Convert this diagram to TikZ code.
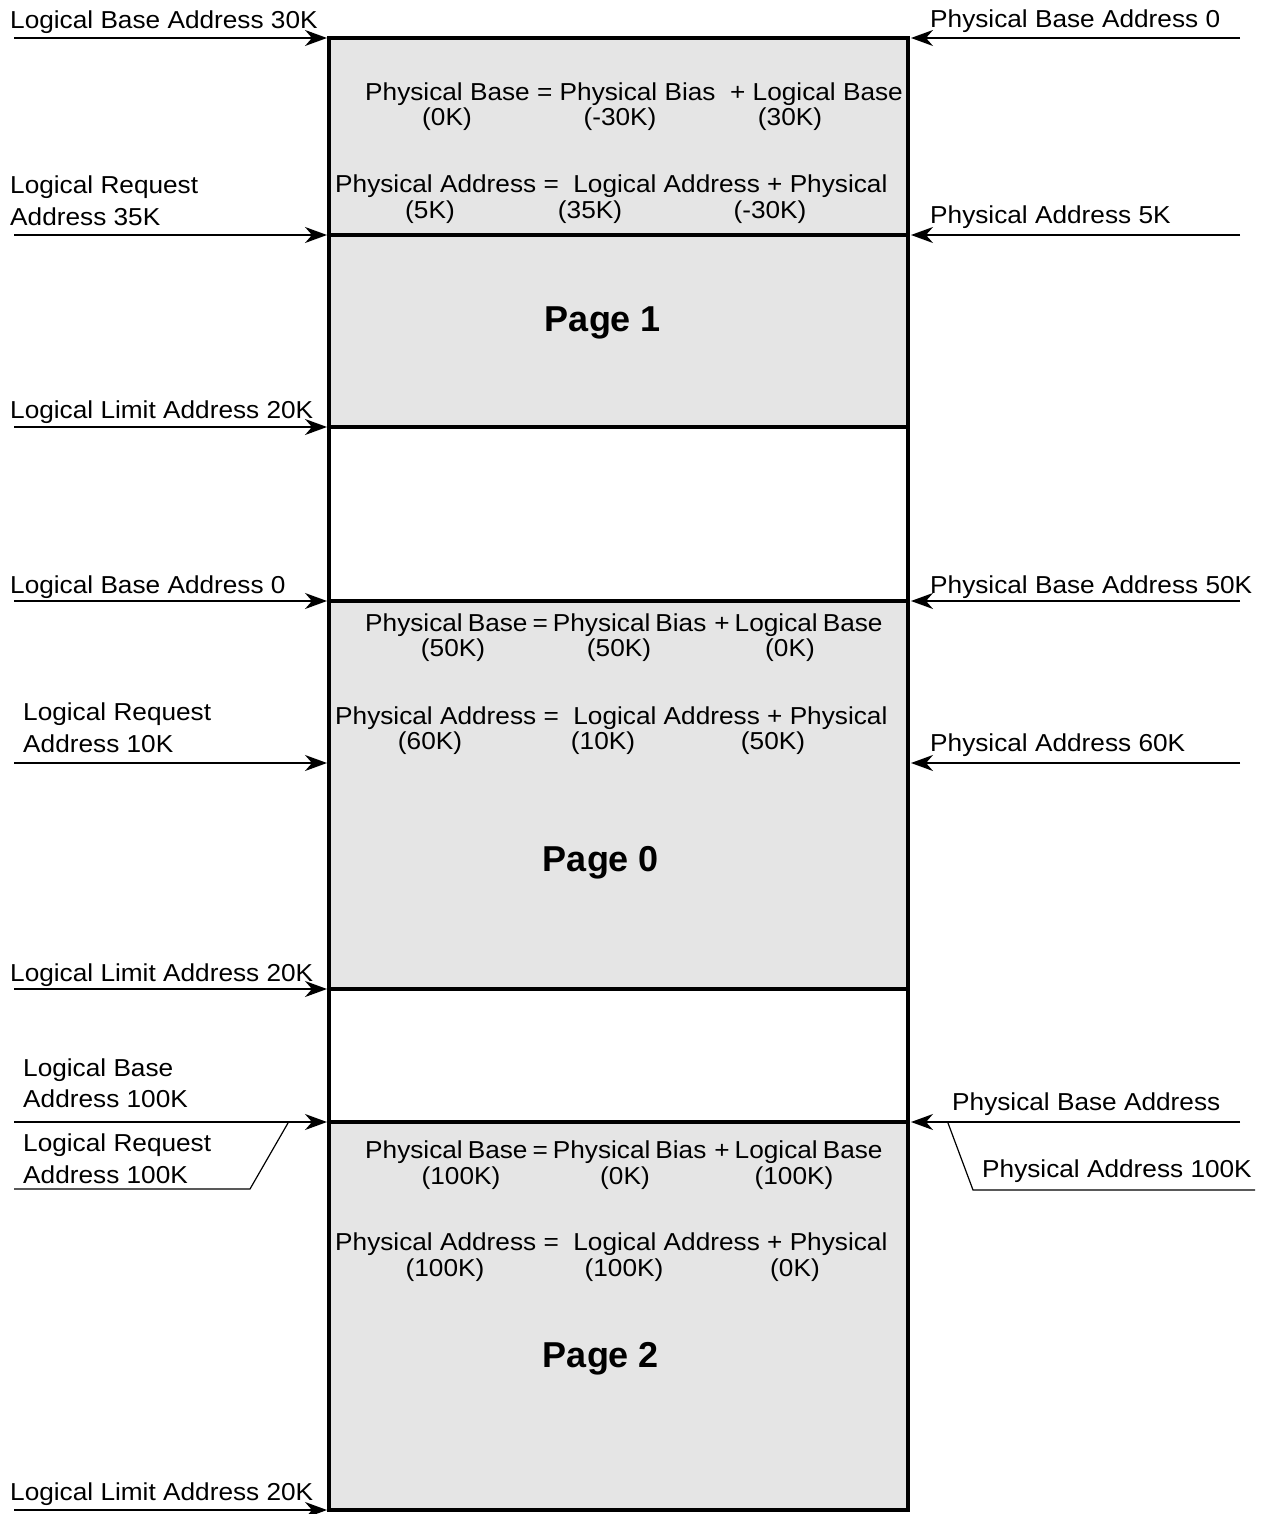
\documentclass[tikz,border=0pt]{standalone}
\usepackage{fontspec}
\setmainfont{Liberation Sans}
\newfontfamily\widefont[FakeStretch=1.07]{Liberation Sans}
\usetikzlibrary{arrows.meta}
\begin{document}
\begin{tikzpicture}[x=1pt,y=-1pt,
  lbl/.style={font=\widefont\fontsize{24.5}{28}\selectfont, inner sep=0pt, anchor=base west},
  val/.style={font=\widefont\fontsize{24.5}{28}\selectfont, inner sep=0pt, anchor=base},
  pg/.style={font=\fontsize{36}{40}\selectfont\bfseries, inner sep=0pt, anchor=base},
  arr/.style={line width=1.4pt, -{Stealth[length=22pt,width=16pt,inset=7pt]}},
  thin/.style={line width=1.2pt},
  box/.style={line width=3.5pt},
  shade/.style={fill=black!10}]
\useasboundingbox (0,0) rectangle (1266,1514);

% shaded regions
\fill[shade] (329,38) rectangle (908,427);
\fill[shade] (329,601) rectangle (908,989);
\fill[shade] (329,1122) rectangle (908,1510);

% box outline and dividers
\draw[box] (329,38) rectangle (908,1510);
\foreach \yy in {235,427,601,989,1122} \draw[box] (329,\yy) -- (908,\yy);

% edge coordinates
\foreach \yy/\nm in {38/a,235/b,427/c,601/d,763/e,989/f,1122/g,1510/h} {
  \coordinate (L\nm) at (14,\yy);
  \coordinate (LB\nm) at (327,\yy);
}
\foreach \yy/\nm in {38/a,235/b,601/d,763/e,1122/g} {
  \coordinate (R\nm) at (1240,\yy);
  \coordinate (RB\nm) at (911,\yy);
}

% left labels
\node[lbl] (l1) at (10,29) {Logical Base Address 30K};
\node[lbl] (l2a) at (10,194) {Logical Request};
\node[lbl] (l2b) at (10,226) {Address 35K};
\node[lbl] (l3) at (10,418) {Logical Limit Address 20K};
\node[lbl] (l4) at (10,593) {Logical Base Address 0};
\node[lbl] (l5a) at (23,720) {Logical Request};
\node[lbl] (l5b) at (23,752) {Address 10K};
\node[lbl] (l6) at (10,981) {Logical Limit Address 20K};
\node[lbl] (l7a) at (23,1076) {Logical Base};
\node[lbl] (l7b) at (23,1107) {Address 100K};
\node[lbl] (l8a) at (23,1151) {Logical Request};
\node[lbl] (l8b) at (23,1183) {Address 100K};
\node[lbl] (l9) at (10,1500) {Logical Limit Address 20K};

% right labels
\node[lbl] (r1) at (930,28) {Physical Base Address 0};
\node[lbl] (r2) at (930,224) {Physical Address 5K};
\node[lbl] (r3) at (930,593) {Physical Base Address 50K};
\node[lbl] (r4) at (930,751) {Physical Address 60K};
\node[lbl] (r5) at (952,1110) {Physical Base Address};
\node[lbl] (r6) at (982,1177) {Physical Address 100K};

% arrows
\foreach \nm in {a,b,c,d,e,f,g,h} \draw[arr] (L\nm) -- (LB\nm);
\foreach \nm in {a,b,d,e,g} \draw[arr] (R\nm) -- (RB\nm);

% slanted leaders
\coordinate (ls1) at (14,1189);
\coordinate (ls2) at (250,1189);
\coordinate (ls3) at (288,1123);
\draw[thin] (ls1) -- (ls2) -- (ls3);
\coordinate (rs1) at (948,1123);
\coordinate (rs2) at (973,1190);
\coordinate (rs3) at (1255,1190);
\draw[thin] (rs1) -- (rs2) -- (rs3);

% formulas: section at top
\node[lbl] (f1) at (365,101) {Physical Base = Physical Bias \ + Logical Base};
\node[val] (f1a) at (447,126) {(0K)};
\node[val] (f1b) at (620,126) {(-30K)};
\node[val] (f1c) at (790,126) {(30K)};
\node[lbl] (f2) at (335,193) {Physical Address = \ Logical Address + Physical};
\node[val] (f2a) at (430,219) {(5K)};
\node[val] (f2b) at (590,219) {(35K)};
\node[val] (f2c) at (770,219) {(-30K)};

% page 0 formulas
\node[lbl] (g1) at (365,631) {Physical\hskip5pt Base\hskip5pt=\hskip5pt Physical\hskip5pt Bias\hskip8pt+\hskip5pt Logical\hskip5pt Base};
\node[val] (g1a) at (453,656) {(50K)};
\node[val] (g1b) at (619,656) {(50K)};
\node[val] (g1c) at (790,656) {(0K)};
\node[lbl] (g2) at (335,724) {Physical Address = \ Logical Address + Physical};
\node[val] (g2a) at (430,749) {(60K)};
\node[val] (g2b) at (603,749) {(10K)};
\node[val] (g2c) at (773,749) {(50K)};

% page 2 formulas
\node[lbl] (h1) at (365,1158) {Physical\hskip5pt Base\hskip5pt=\hskip5pt Physical\hskip5pt Bias\hskip8pt+\hskip5pt Logical\hskip5pt Base};
\node[val] (h1a) at (461,1184) {(100K)};
\node[val] (h1b) at (625,1184) {(0K)};
\node[val] (h1c) at (794,1184) {(100K)};
\node[lbl] (h2) at (335,1250) {Physical Address = \ Logical Address + Physical};
\node[val] (h2a) at (445,1276) {(100K)};
\node[val] (h2b) at (624,1276) {(100K)};
\node[val] (h2c) at (795,1276) {(0K)};

% page titles
\node[pg] (p1) at (603,331) {Page 1};
\node[pg] (p0) at (601,871) {Page 0};
\node[pg] (p2) at (601,1367) {Page 2};
\end{tikzpicture}
\end{document}
